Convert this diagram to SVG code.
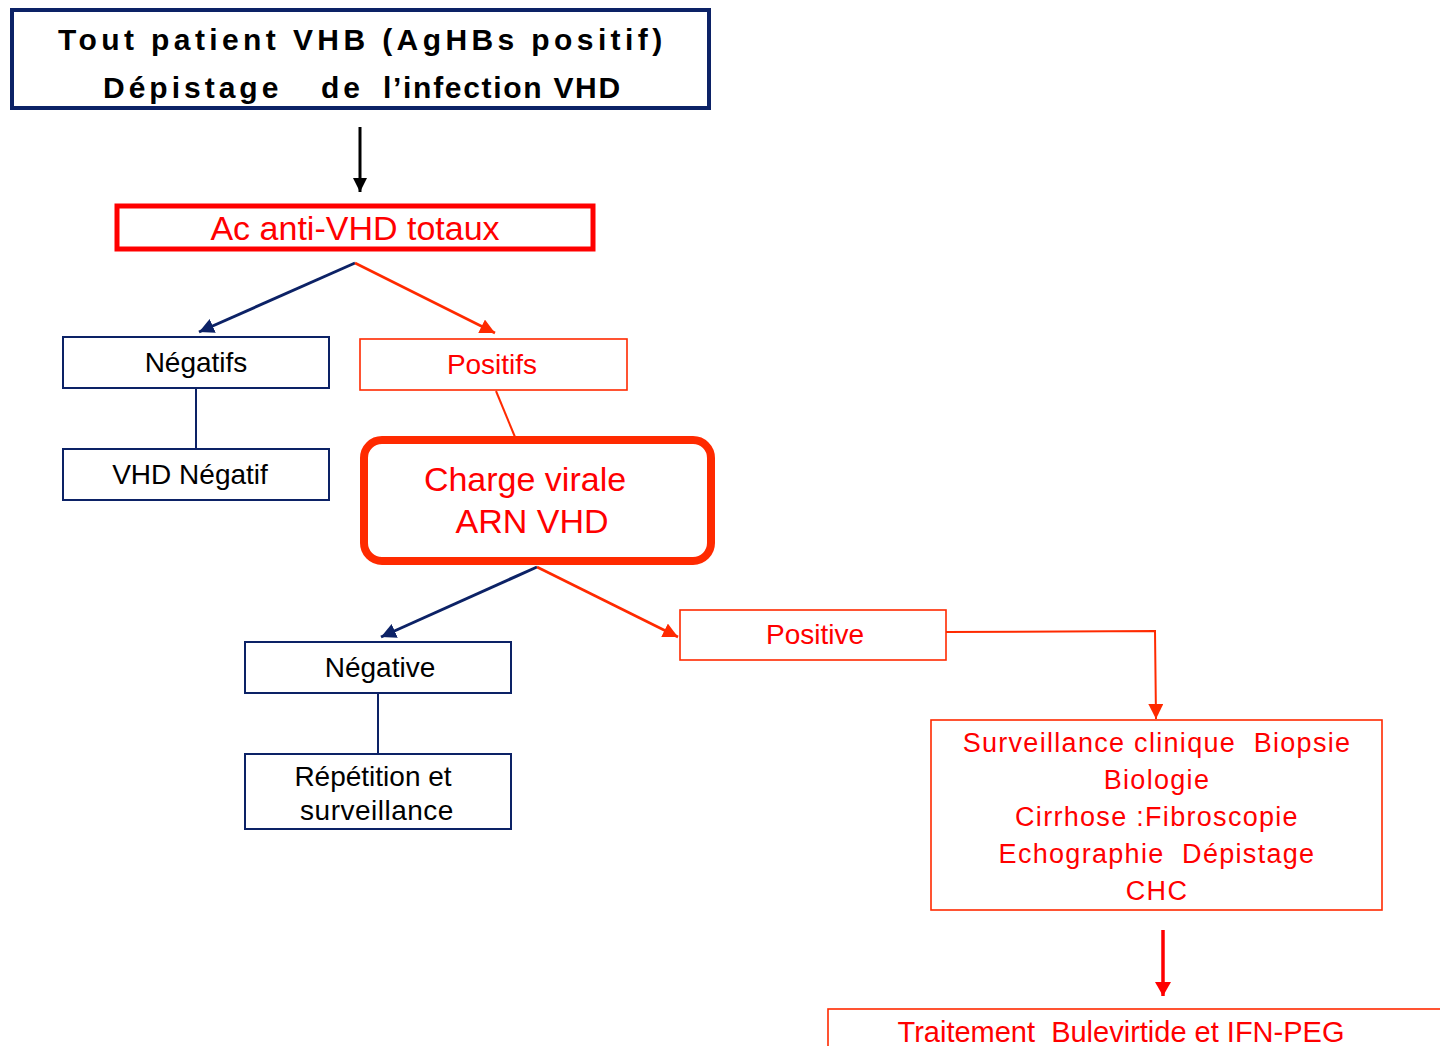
<svg xmlns="http://www.w3.org/2000/svg" width="1440" height="1046" viewBox="0 0 1440 1046" xml:space="preserve">
<style>
text{font-family:"Liberation Sans",Arial,sans-serif;white-space:pre}
.t{font-size:28px;fill:#000;text-anchor:middle}
.r{font-size:28px;fill:#ff0000;text-anchor:middle}
.nb{fill:#fff;stroke:#0c2266;stroke-width:2}
.rb{fill:#fff;stroke:#ff2a00;stroke-width:1.6}
.nl{stroke:#0c2266;stroke-width:3;fill:none}
.rl{stroke:#ff2a00;stroke-width:2.6;fill:none}
</style>
<defs>
<marker id="an" markerUnits="userSpaceOnUse" markerWidth="20" markerHeight="20" refX="15" refY="7.5" orient="auto"><path d="M0,0 L15,7.5 L0,15 Z" fill="#0c2266"/></marker>
<marker id="ar" markerUnits="userSpaceOnUse" markerWidth="20" markerHeight="20" refX="15" refY="7.5" orient="auto"><path d="M0,0 L15,7.5 L0,15 Z" fill="#ff2a00"/></marker>
<marker id="ak" markerUnits="userSpaceOnUse" markerWidth="20" markerHeight="20" refX="14" refY="7" orient="auto"><path d="M0,0 L14,7 L0,14 Z" fill="#000"/></marker>
<marker id="arr" markerUnits="userSpaceOnUse" markerWidth="20" markerHeight="20" refX="14" refY="8" orient="auto"><path d="M0,0 L14,8 L0,16 Z" fill="#ff0000"/></marker>
</defs>
<rect width="1440" height="1046" fill="#fff"/>
<g id="connectors">
<line x1="360" y1="127" x2="360" y2="192" stroke="#000" stroke-width="3" marker-end="url(#ak)"/>
<line class="nl" x1="355" y1="263" x2="199" y2="332" marker-end="url(#an)"/>
<line class="rl" x1="355" y1="263" x2="495" y2="333" marker-end="url(#ar)"/>
<line class="nl" x1="196" y1="388" x2="196" y2="449" style="stroke-width:2"/>
<line class="rl" x1="496" y1="391" x2="515" y2="437" style="stroke-width:2"/>
<line class="nl" x1="537" y1="567" x2="381" y2="637" marker-end="url(#an)"/>
<line class="rl" x1="537" y1="567" x2="678" y2="637" marker-end="url(#ar)"/>
<line class="nl" x1="378" y1="693" x2="378" y2="754" style="stroke-width:2"/>
<polyline class="rl" points="946,632 1155,631 1156,719" style="stroke-width:2" marker-end="url(#ar)"/>
<line x1="1163" y1="930" x2="1163" y2="996" stroke="#ff0000" stroke-width="3.5" marker-end="url(#arr)"/>
</g>
<g id="n-top">
<rect x="12" y="10" width="697" height="98" fill="#fff" stroke="#0c2266" stroke-width="4"/>
<text x="58" y="50" style="font-size:30px;font-weight:bold;letter-spacing:4.4px">Tout patient VHB (AgHBs positif)</text>
<text y="98" style="font-size:30px;font-weight:bold"><tspan x="103" style="letter-spacing:4px">Dépistage</tspan><tspan x="321" style="letter-spacing:4px">de</tspan><tspan x="383" style="letter-spacing:1.7px">l’infection VHD</tspan></text>
</g>
<g id="n-ac">
<rect x="117" y="206" width="476" height="43" fill="#fff" stroke="#ff0000" stroke-width="5"/>
<text class="r" x="355" y="240" style="font-size:34px">Ac anti-VHD totaux</text>
</g>
<g id="n-negatifs">
<rect class="nb" x="63" y="337" width="266" height="51"/>
<text class="t" x="196" y="372">Négatifs</text>
</g>
<g id="n-vhdneg">
<rect class="nb" x="63" y="449" width="266" height="51"/>
<text class="t" x="190" y="484">VHD Négatif</text>
</g>
<g id="n-positifs">
<rect class="rb" x="360" y="339" width="267" height="51"/>
<text class="r" x="492" y="374">Positifs</text>
</g>
<g id="n-charge">
<rect x="364" y="440" width="347" height="121" rx="18" fill="#fff" stroke="#ff2a00" stroke-width="8"/>
<text class="r" x="525" y="491" style="font-size:34px">Charge virale</text>
<text class="r" x="532" y="533" style="font-size:34px">ARN VHD</text>
</g>
<g id="n-negative">
<rect class="nb" x="245" y="642" width="266" height="51"/>
<text class="t" x="380" y="677">Négative</text>
</g>
<g id="n-repetition">
<rect class="nb" x="245" y="754" width="266" height="75"/>
<text class="t" x="373" y="786">Répétition et</text>
<text class="t" x="377" y="820" style="letter-spacing:0.5px">surveillance</text>
</g>
<g id="n-positive">
<rect class="rb" x="680" y="610" width="266" height="50"/>
<text class="r" x="815" y="644">Positive</text>
</g>
<g id="n-surv">
<rect class="rb" x="931" y="720" width="451" height="190"/>
<g class="r" style="font-size:27px;letter-spacing:1.3px">
<text x="1157" y="752">Surveillance clinique  Biopsie</text>
<text x="1157" y="789">Biologie</text>
<text x="1157" y="826">Cirrhose :Fibroscopie</text>
<text x="1157" y="863">Echographie  Dépistage</text>
<text x="1157" y="900">CHC</text>
</g>
</g>
<g id="n-traitement">
<rect class="rb" x="828" y="1009" width="640" height="60"/>
<text class="r" x="1121" y="1042" style="font-size:29px">Traitement  Bulevirtide et IFN-PEG</text>
</g>
</svg>
